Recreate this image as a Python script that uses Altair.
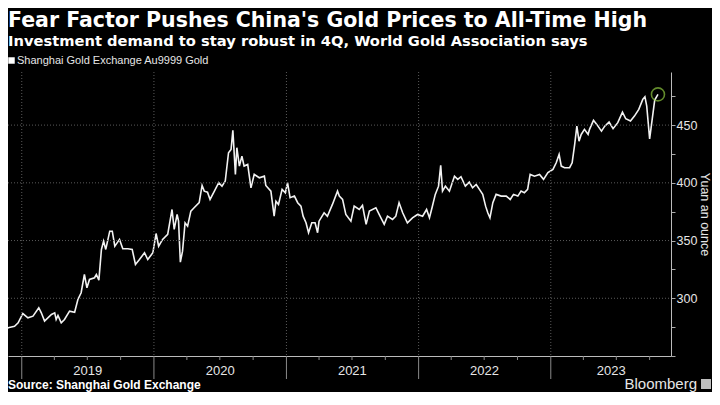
import altair as alt
import pandas as pd

# ---- data ----
dates = [
    "2018-11-01", "2018-11-12", "2018-11-24", "2018-12-12", "2018-12-22",
    "2019-01-04", "2019-01-18", "2019-02-01", "2019-02-17", "2019-02-24", "2019-03-05",
    "2019-03-24", "2019-04-02", "2019-04-06", "2019-04-11", "2019-04-20", "2019-04-29",
    "2019-05-13", "2019-05-27", "2019-06-05", "2019-06-14", "2019-06-23", "2019-06-30",
    "2019-07-07", "2019-07-21", "2019-07-26", "2019-08-02", "2019-08-09", "2019-08-15",
    "2019-08-21", "2019-09-01", "2019-09-08", "2019-09-15", "2019-09-28", "2019-10-07",
    "2019-10-21", "2019-11-02", "2019-11-11", "2019-11-22", "2019-12-06", "2019-12-15",
    "2019-12-29",
    "2020-01-07", "2020-01-14", "2020-01-25", "2020-02-08", "2020-02-20", "2020-02-26",
    "2020-03-05", "2020-03-09", "2020-03-14", "2020-03-20", "2020-03-27", "2020-04-03",
    "2020-04-12", "2020-04-21", "2020-05-05", "2020-05-13", "2020-05-19", "2020-05-28",
    "2020-06-04", "2020-06-16", "2020-06-28", "2020-07-07", "2020-07-16", "2020-07-25",
    "2020-08-01", "2020-08-06", "2020-08-13", "2020-08-17", "2020-08-24", "2020-08-31",
    "2020-09-06", "2020-09-16", "2020-09-25", "2020-10-04", "2020-10-18", "2020-11-01",
    "2020-11-05", "2020-11-19", "2020-11-28", "2020-12-03", "2020-12-10", "2020-12-20",
    "2020-12-29",
    "2021-01-04", "2021-01-11", "2021-01-23", "2021-02-01", "2021-02-10", "2021-02-16",
    "2021-02-24", "2021-03-03", "2021-03-12", "2021-03-21", "2021-03-28", "2021-04-01",
    "2021-04-15", "2021-04-24", "2021-05-08", "2021-05-22", "2021-05-27", "2021-06-05",
    "2021-06-14", "2021-06-28", "2021-07-07", "2021-07-21", "2021-07-30", "2021-08-09",
    "2021-08-18", "2021-09-05", "2021-09-14", "2021-09-28", "2021-10-07", "2021-10-21",
    "2021-10-30", "2021-11-08", "2021-11-18", "2021-12-01", "2021-12-15", "2021-12-29",
    "2022-01-12", "2022-01-23", "2022-01-31", "2022-02-07", "2022-02-16", "2022-02-25",
    "2022-03-03", "2022-03-08", "2022-03-16", "2022-03-27", "2022-04-10", "2022-04-19",
    "2022-04-28", "2022-05-10", "2022-05-21", "2022-05-30", "2022-06-09", "2022-06-18",
    "2022-06-27", "2022-07-05", "2022-07-11", "2022-07-17", "2022-07-25", "2022-08-03",
    "2022-08-17", "2022-08-31", "2022-09-11", "2022-09-20", "2022-10-02", "2022-10-11",
    "2022-10-20", "2022-10-29", "2022-11-05", "2022-11-17", "2022-12-01", "2022-12-12",
    "2022-12-24",
    "2023-01-07", "2023-01-16", "2023-01-24", "2023-01-30", "2023-02-08", "2023-02-22",
    "2023-03-01", "2023-03-08", "2023-03-14", "2023-03-20", "2023-03-26", "2023-04-04",
    "2023-04-14", "2023-04-18", "2023-04-29", "2023-05-08", "2023-05-21", "2023-05-30",
    "2023-06-11", "2023-06-22", "2023-07-05", "2023-07-18", "2023-07-27", "2023-08-09",
    "2023-08-20", "2023-09-01", "2023-09-12", "2023-09-18", "2023-09-23", "2023-10-01",
    "2023-10-15", "2023-10-24",
]
prices = [
    275.8, 270.6, 274.4, 275.8, 278.7,
    286.8, 283.1, 284.5, 291.8, 287.4, 280.2,
    286.0, 287.4, 281.6, 285.1, 278.7, 281.6,
    288.8, 287.9, 299.0, 304.8, 320.6, 309.0,
    316.3, 317.8, 320.6, 315.7, 342.3, 349.5,
    342.3, 358.1, 358.1, 345.1, 351.0, 342.9,
    342.9, 342.3, 329.3, 333.6, 339.4, 333.6,
    339.4,
    356.1, 345.1, 351.0, 355.3, 376.9, 359.6,
    372.6, 366.8, 331.3, 340.8, 365.4, 362.5,
    375.5, 378.4, 382.8, 397.7, 392.8, 391.9,
    385.6, 392.8, 400.1, 397.1, 401.5, 426.1,
    428.9, 445.4, 407.3, 430.4, 414.5, 423.1,
    414.5, 415.9, 395.7, 407.3, 404.4, 405.8,
    397.7, 392.8, 371.1, 384.1, 381.3, 394.3,
    391.4,
    400.1, 387.1, 388.5, 382.8, 379.8, 371.1,
    365.4, 356.8, 365.4, 365.4, 356.8, 366.8,
    374.1, 371.1, 381.3, 392.8, 388.5, 385.6,
    372.6, 366.8, 379.8, 376.9, 380.4, 364.0,
    375.5, 378.4, 372.6, 364.0, 371.1, 368.3,
    371.1, 382.8, 374.1, 365.4, 369.7, 372.6,
    371.1, 376.9, 369.7, 378.4, 390.0, 397.1,
    415.1, 392.8, 397.1, 392.8, 405.8, 403.0,
    405.3, 397.1, 400.6, 395.7, 398.6, 394.3,
    390.0, 379.8, 374.1, 369.7, 382.8, 390.0,
    388.5, 388.5, 385.6, 390.0, 388.5, 392.8,
    391.4, 394.3, 407.3, 405.8, 407.3, 403.0,
    408.8,
    411.6, 417.4, 424.6, 414.5, 413.1, 413.1,
    417.4, 433.3, 449.1, 436.1, 441.9, 446.3,
    441.9, 446.3, 454.1, 450.6, 444.8, 449.1,
    452.6, 446.9, 452.1, 461.3, 455.5, 453.5,
    457.8, 463.6, 472.3, 474.6, 466.5, 438.0,
    471.7, 476.6,
]

year_starts = ["2019-01-01", "2020-01-01", "2021-01-01", "2022-01-01", "2023-01-01"]
year_labels = ["2019", "2020", "2021", "2022", "2023"]
year_label_dates = ["2019-07-02", "2020-07-02", "2021-07-02", "2022-07-02", "2023-06-17"]
quarter_ticks = [f"{y}-{m:02d}-01" for y in range(2019, 2024) for m in (4, 7, 10)]
grid_values = [300, 350, 400, 450]
y_ticks = [250, 275, 300, 325, 350, 375, 400, 425, 450, 475]

title_text = "Fear Factor Pushes China's Gold Prices to All-Time High"
subtitle_text = "Investment demand to stay robust in 4Q, World Gold Association says"
legend_text = "Shanghai Gold Exchange Au9999 Gold"
source_text = "Source: Shanghai Gold Exchange"
brand_text = "Bloomberg"
y_title = "Yuan an ounce"

# ---- layout (whole svg kept within 704 x 384 so the page never overflows) ----
W, H = 663, 284
FONT = "Liberation Sans"
HEAD = "DejaVu Sans"
x_scale = alt.Scale(domain=[alt.DateTime(year=2018, month=11, date=24),
                            alt.DateTime(year=2023, month=11, date=29)])
y_scale = alt.Scale(domain=[250, 496], nice=False, zero=False)

x_axis = alt.Axis(labels=False, ticks=False, grid=False, domain=True,
                  domainColor="#bbbbbb", domainWidth=1, title=None)
y_axis = alt.Axis(orient="right", values=y_ticks,
                  labelExpr="datum.value % 50 == 0 && datum.value > 250 ? datum.label : ''",
                  tickSize=4, tickColor="#aaaaaa", domainColor="#bbbbbb",
                  labelColor="#e6e6e6", labelFontSize=12.5, labelPadding=1,
                  labelFont=FONT, grid=False,
                  title=y_title, titleColor="#e6e6e6", titleFontSize=12.5,
                  titleFontWeight="normal", titleFont=FONT, titleAngle=90,
                  titlePadding=1)


def X(field="date"):
    return alt.X(f"{field}:T", scale=x_scale, axis=x_axis)


def Y(field="price"):
    return alt.Y(f"{field}:Q", scale=y_scale, axis=y_axis)


df = pd.DataFrame({"date": dates, "price": prices})
last = df.tail(1)

line = alt.Chart(df).mark_line(color="#f2f2f2", strokeWidth=1.6, clip=True).encode(
    x=X(), y=Y())

circle = alt.Chart(last).mark_point(shape="circle", filled=False, size=170,
                                    color="#8dc63f", strokeWidth=1.6).encode(x=X(), y=Y())

hgrid = alt.Chart(pd.DataFrame({"price": grid_values})).mark_rule(
    color="#5a5a5a", strokeDash=[1, 2], strokeWidth=1).encode(
    y=Y(), x=alt.value(0), x2=alt.value(W))

ys = pd.DataFrame({"date": year_starts})
vgrid = alt.Chart(ys).mark_rule(color="#5a5a5a", strokeDash=[1, 2], strokeWidth=1).encode(
    x=X(), y=alt.value(0), y2=alt.value(H))

ysep = alt.Chart(ys).mark_rule(color="#8a8a8a", strokeWidth=1).encode(
    x=X(), y=alt.value(H), y2=alt.value(H + 23))

qt = alt.Chart(pd.DataFrame({"date": quarter_ticks})).mark_rule(
    color="#8a8a8a", strokeWidth=1).encode(x=X(), y=alt.value(H), y2=alt.value(H + 4))

ylab = alt.Chart(pd.DataFrame({"date": year_label_dates, "label": year_labels})).mark_text(
    color="#e6e6e6", fontSize=13, font=FONT, baseline="alphabetic", align="center").encode(
    x=X(), y=alt.value(H + 19), text="label:N")


def txt(s, x, y, size, weight="normal", align="left", color="#ffffff", font=FONT):
    return alt.Chart(pd.DataFrame({"t": [s]})).mark_text(
        fontSize=size, fontWeight=weight, font=font, align=align, baseline="alphabetic",
        color=color).encode(text="t:N", x=alt.value(x), y=alt.value(y))


title = txt(title_text, 0, -45, 20.5, "bold", font=HEAD)
subtitle = txt(subtitle_text, 0, -26.5, 14.7, "bold", font=HEAD)
legend_sq = alt.Chart(pd.DataFrame({"t": [legend_text]})).mark_square(
    color="#ffffff", size=42, opacity=1).encode(x=alt.value(3.5), y=alt.value(-11.5))
legend = txt(legend_text, 9, -8, 11, color="#e6e6e6")
source = txt(source_text, 0, H + 33, 12, "bold")
brand = txt(brand_text, 689, H + 33, 15, align="right", color="#e6e6e6")
logo = alt.Chart(pd.DataFrame({"t": [brand_text]})).mark_square(
    color="#bdbdbd", size=100, opacity=1).encode(x=alt.value(698), y=alt.value(H + 28))

chart = alt.layer(
    line, hgrid, vgrid, ysep, qt, circle, ylab,
    title, subtitle, legend_sq, legend, source, brand, logo,
).properties(
    width=W, height=H,
    autosize=alt.AutoSizeParams(type="none"),
    padding={"left": 0, "top": 64, "right": 41, "bottom": 36},
    background="#000000",
).configure_view(stroke=None)

chart.save("out.html", embed_options={"renderer": "svg", "actions": False})
